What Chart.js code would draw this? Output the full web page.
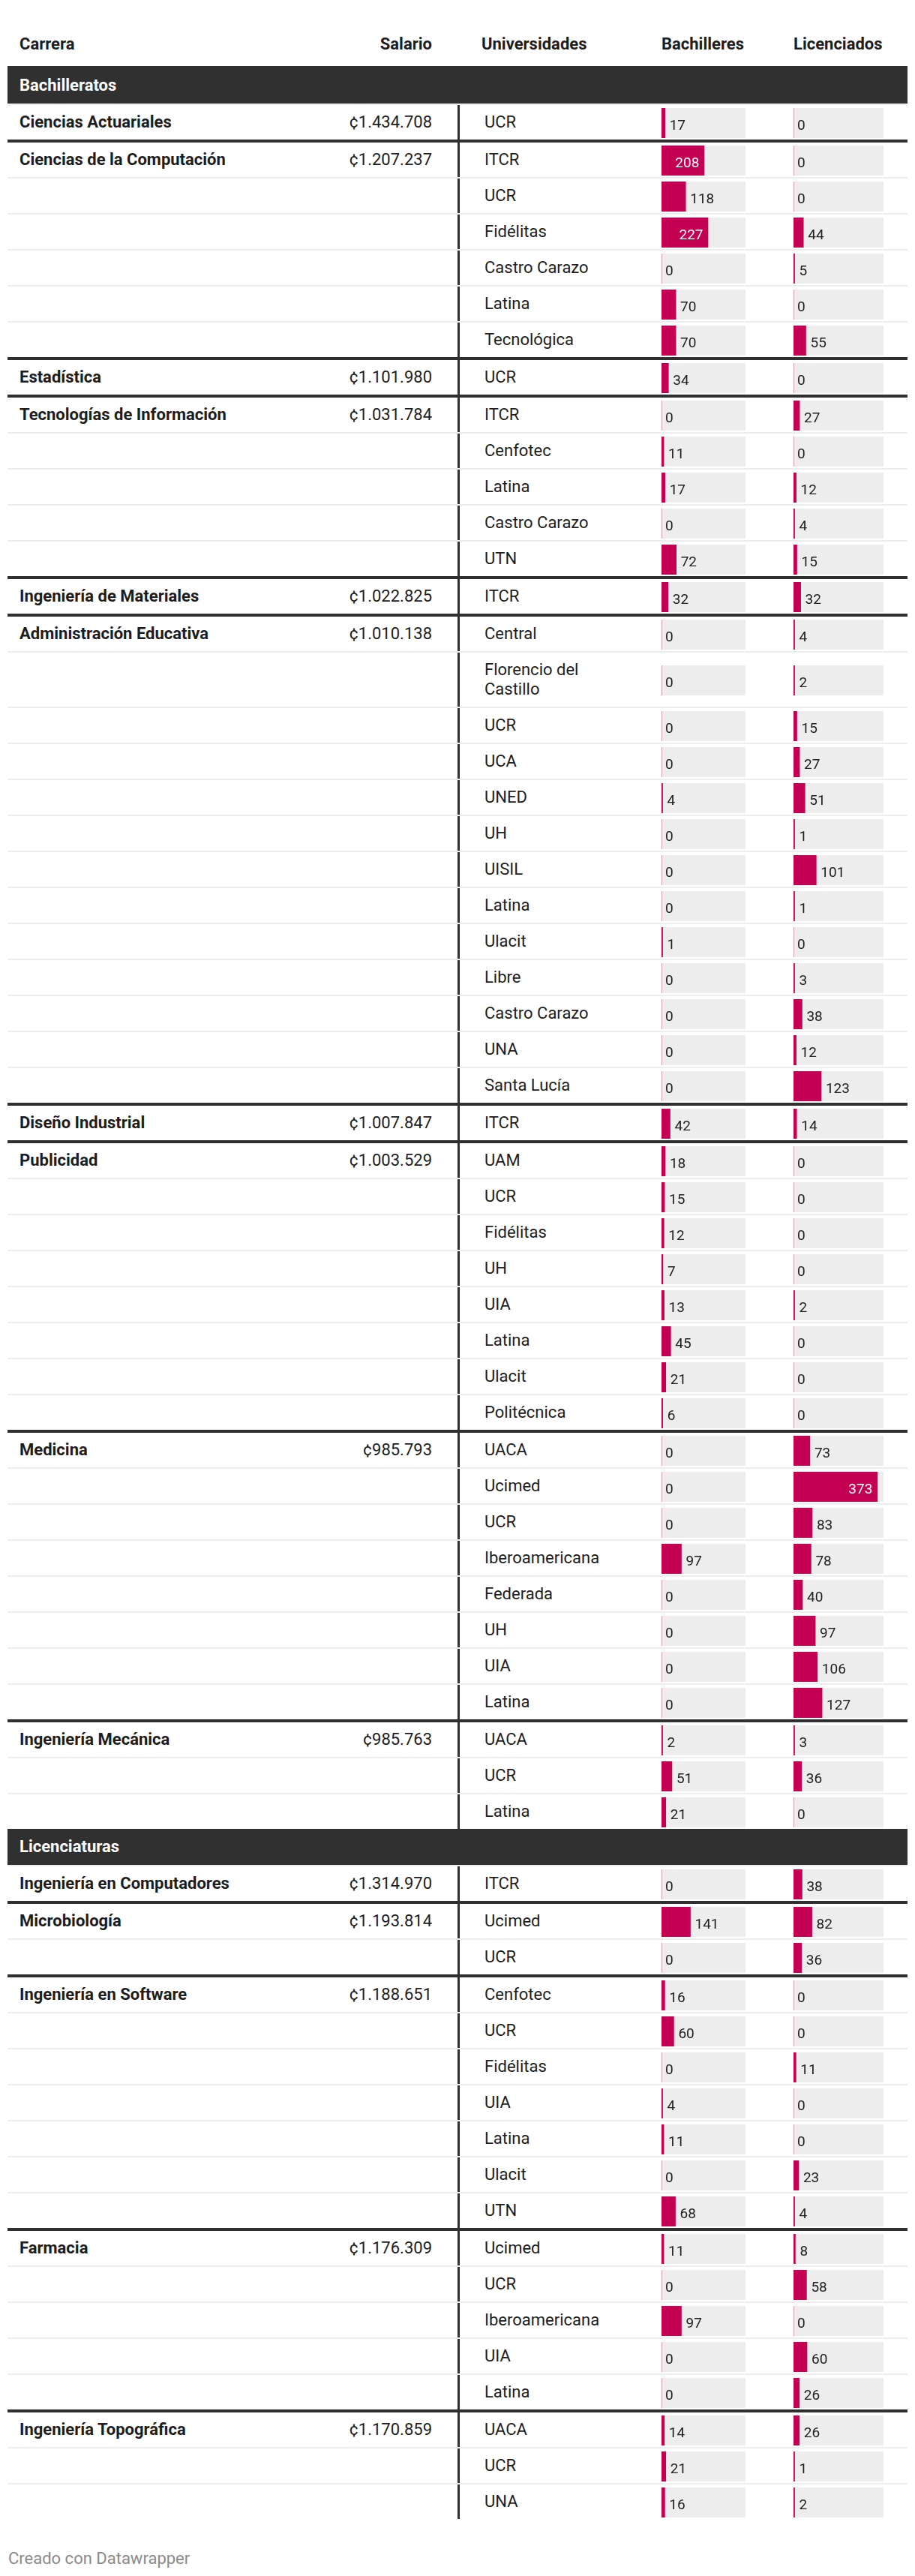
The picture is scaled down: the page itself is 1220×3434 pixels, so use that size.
<!DOCTYPE html>
<html>
<head>
<meta charset="utf-8">
<script src="https://cdn.jsdelivr.net/npm/chart.js@4.4.1/dist/chart.umd.min.js"></script>
<style>
  html, body { margin:0; padding:0; background:#fff; }
  body { width:1220px; height:3434px; overflow:hidden; font-family:Roboto, "Noto Sans", sans-serif; color:#1d1d1d; }
  #tbl { margin-left:10px; width:1200px; }
  .head { position:relative; height:88px; border-bottom:2px solid #303030; }
  .head div { position:absolute; top:46px; font-weight:700; font-size:22px; line-height:26px; white-space:nowrap; }
  .band { height:48px; background:#303030; color:#fff; font-weight:700; font-size:22px; line-height:48px; padding-left:16px; }
  .row { display:flex; align-items:center; min-height:46px; border-top:2px solid #ededed; font-size:22px; line-height:26px; }
  .row.grp { border-top:4px solid #303030; }
  .row > * { flex:0 0 auto; }
  .c-car { margin-left:16px; width:380px; font-weight:700; white-space:nowrap; }
  .c-sal { width:170px; text-align:right; white-space:nowrap; }
  .c-uni { margin-left:34px; width:269px; align-self:stretch; border-left:3px solid #303030; display:flex; align-items:center; padding:10px 0; box-sizing:content-box; }
  .c-uni span { margin-left:33px; max-width:200px; }
  canvas.cell { display:block; align-self:center; margin-top:2px; }
  canvas.lic { margin-left:64px; }
  #foot { margin-top:40px; padding-left:11px; font-size:22px; line-height:26px; color:#8a8a8a; }
</style>
</head>
<body>
<div id="tbl"></div>
<div id="foot">Creado con Datawrapper</div>
<script>
// ---- data ----
const columnHeaders = ["Carrera", "Salario", "Universidades", "Bachilleres", "Licenciados"];
const sections = ["Bachilleratos", "Licenciaturas"];
const careers = ["Ciencias Actuariales", "Ciencias de la Computación", "Estadística", "Tecnologías de Información",
  "Ingeniería de Materiales", "Administración Educativa", "Diseño Industrial", "Publicidad", "Medicina",
  "Ingeniería Mecánica", "Ingeniería en Computadores", "Microbiología", "Ingeniería en Software", "Farmacia",
  "Ingeniería Topográfica"];
const careerSection = [0, 0, 0, 0, 0, 0, 0, 0, 0, 0, 1, 1, 1, 1, 1];
const salaries = [1434708, 1207237, 1101980, 1031784, 1022825, 1010138, 1007847, 1003529, 985793, 985763,
  1314970, 1193814, 1188651, 1176309, 1170859];
const universities = [
  ["UCR"],
  ["ITCR", "UCR", "Fidélitas", "Castro Carazo", "Latina", "Tecnológica"],
  ["UCR"],
  ["ITCR", "Cenfotec", "Latina", "Castro Carazo", "UTN"],
  ["ITCR"],
  ["Central", "Florencio del Castillo", "UCR", "UCA", "UNED", "UH", "UISIL", "Latina", "Ulacit", "Libre", "Castro Carazo", "UNA", "Santa Lucía"],
  ["ITCR"],
  ["UAM", "UCR", "Fidélitas", "UH", "UIA", "Latina", "Ulacit", "Politécnica"],
  ["UACA", "Ucimed", "UCR", "Iberoamericana", "Federada", "UH", "UIA", "Latina"],
  ["UACA", "UCR", "Latina"],
  ["ITCR"],
  ["Ucimed", "UCR"],
  ["Cenfotec", "UCR", "Fidélitas", "UIA", "Latina", "Ulacit", "UTN"],
  ["Ucimed", "UCR", "Iberoamericana", "UIA", "Latina"],
  ["UACA", "UCR", "UNA"]
];
const bachilleres = [
  [17],
  [208, 118, 227, 0, 70, 70],
  [34],
  [0, 11, 17, 0, 72],
  [32],
  [0, 0, 0, 0, 4, 0, 0, 0, 1, 0, 0, 0, 0],
  [42],
  [18, 15, 12, 7, 13, 45, 21, 6],
  [0, 0, 0, 97, 0, 0, 0, 0],
  [2, 51, 21],
  [0],
  [141, 0],
  [16, 60, 0, 4, 11, 0, 68],
  [11, 0, 97, 0, 0],
  [14, 21, 16]
];
const licenciados = [
  [0],
  [0, 0, 44, 5, 0, 55],
  [0],
  [27, 0, 12, 4, 15],
  [32],
  [4, 2, 15, 27, 51, 1, 101, 1, 0, 3, 38, 12, 123],
  [14],
  [0, 0, 0, 0, 2, 0, 0, 0],
  [73, 373, 83, 78, 40, 97, 106, 127],
  [3, 36, 0],
  [38],
  [82, 36],
  [0, 0, 11, 0, 0, 23, 4],
  [8, 58, 0, 60, 26],
  [26, 1, 2]
];
// axis ranges of the two bar columns
const bachAxisMax = 410;
const licAxisMax = 400;

// ---- styling ----
const BAR_COLOR = "#c30052";
const CELL_BG = "#ededed";

const cellPlugin = {
  id: "cellPlugin",
  beforeDatasetsDraw(chart) {
    const { ctx, chartArea: a } = chart;
    ctx.save();
    ctx.fillStyle = CELL_BG;
    ctx.fillRect(a.left, a.top, a.right - a.left, a.bottom - a.top);
    ctx.restore();
  },
  afterDatasetsDraw(chart) {
    const { ctx } = chart;
    const v = chart.data.datasets[0].data[0];
    const bar = chart.getDatasetMeta(0).data[0];
    const w = bar.x - bar.base;
    ctx.save();
    ctx.font = "19px Roboto";
    ctx.textBaseline = "alphabetic";
    if (w > 50) {
      ctx.fillStyle = "#ffffff";
      ctx.textAlign = "right";
      ctx.fillText(String(v), bar.x - 6.5, bar.y + 8.7);
    } else {
      ctx.fillStyle = "#222222";
      ctx.textAlign = "left";
      ctx.fillText(String(v), bar.x + (v > 0 ? 6 : 5), bar.y + 8.7);
    }
    ctx.restore();
  }
};

function makeCell(parent, value, max, width, cls) {
  const c = document.createElement("canvas");
  c.className = "cell " + cls;
  c.width = width; c.height = 40;
  c.style.width = width + "px"; c.style.height = "40px";
  parent.appendChild(c);
  new Chart(c, {
    type: "bar",
    data: {
      labels: [""],
      datasets: [{
        data: [value],
        backgroundColor: BAR_COLOR,
        borderWidth: 0,
        barPercentage: 1,
        categoryPercentage: 1,
        minBarLength: value > 0 ? 1.5 : 0
      }]
    },
    options: {
      indexAxis: "y",
      responsive: false,
      animation: false,
      events: [],
      devicePixelRatio: 1,
      layout: { padding: 0 },
      scales: {
        x: { display: false, min: 0, max: max },
        y: { display: false }
      },
      plugins: { legend: { display: false }, tooltip: { enabled: false } }
    },
    plugins: [cellPlugin]
  });
}

function fmtSalary(n) {
  return "¢" + String(n).replace(/\B(?=(\d{3})+(?!\d))/g, ".");
}

const tbl = document.getElementById("tbl");
// header
const head = document.createElement("div");
head.className = "head";
const headPos = [
  "left:16px", "right:634px", "left:632px", "left:872px", "left:1048px"
];
columnHeaders.forEach((h, i) => {
  const d = document.createElement("div");
  d.style.cssText = headPos[i];
  d.textContent = h;
  head.appendChild(d);
});
tbl.appendChild(head);

let lastSection = -1;
careers.forEach((career, ci) => {
  const sec = careerSection[ci];
  let firstAfterBand = false;
  if (sec !== lastSection) {
    const b = document.createElement("div");
    b.className = "band";
    b.textContent = sections[sec];
    tbl.appendChild(b);
    lastSection = sec;
    firstAfterBand = true;
  }
  universities[ci].forEach((uni, ui) => {
    const r = document.createElement("div");
    r.className = "row" + (ui === 0 && !firstAfterBand ? " grp" : "");
    const car = document.createElement("div");
    car.className = "c-car";
    car.textContent = ui === 0 ? career : "";
    const sal = document.createElement("div");
    sal.className = "c-sal";
    sal.textContent = ui === 0 ? fmtSalary(salaries[ci]) : "";
    const u = document.createElement("div");
    u.className = "c-uni";
    const sp = document.createElement("span");
    sp.textContent = uni;
    u.appendChild(sp);
    r.appendChild(car); r.appendChild(sal); r.appendChild(u);
    tbl.appendChild(r);
    makeCell(r, bachilleres[ci][ui], bachAxisMax, 112, "bach");
    makeCell(r, licenciados[ci][ui], licAxisMax, 120, "lic");
    firstAfterBand = false;
  });
});
</script>
</body>
</html>
